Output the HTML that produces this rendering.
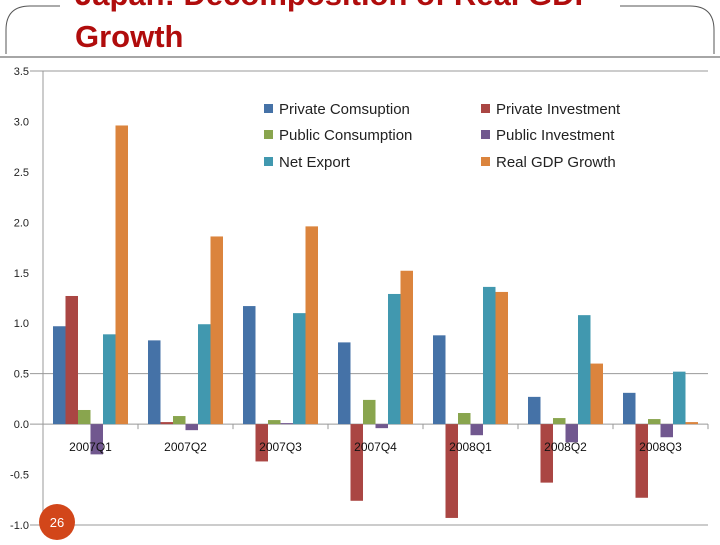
<!DOCTYPE html>
<html><head><meta charset="utf-8"><style>
body{margin:0;width:720px;height:540px;overflow:hidden;background:#fff;font-family:"Liberation Sans",sans-serif}
</style></head><body>
<svg width="720" height="540">
<path d="M6,54 V30 Q6,6 30,6 H690 Q714,6 714,30 V54" fill="none" stroke="#555" stroke-width="1"/>
<rect x="60" y="0" width="560" height="16" fill="#fff"/>
<text x="75" y="5" font-size="31" font-weight="bold" fill="#b00c0c">Japan: Decomposition of Real GDP</text>
<text x="75" y="47" font-size="31" font-weight="bold" fill="#b00c0c">Growth</text>
<line x1="0" y1="57" x2="720" y2="57" stroke="#888" stroke-width="1.5"/>
<g id="chart"></g>
<circle cx="57" cy="522" r="18" fill="#d2461a"/>
<text x="57" y="527" font-size="13" fill="#fff" text-anchor="middle">26</text>
</svg>
<script>
const categories=["2007Q1","2007Q2","2007Q3","2007Q4","2008Q1","2008Q2","2008Q3"];
const seriesNames=["Private Comsuption","Private Investment","Public Consumption","Public Investment","Net Export","Real GDP Growth"];
const privateConsumption=[0.97,0.83,1.17,0.81,0.88,0.27,0.31];
const privateInvestment=[1.27,0.02,-0.37,-0.76,-0.93,-0.58,-0.73];
const publicConsumption=[0.14,0.08,0.04,0.24,0.11,0.06,0.05];
const publicInvestment=[-0.30,-0.06,0.01,-0.04,-0.11,-0.18,-0.13];
const netExport=[0.89,0.99,1.10,1.29,1.36,1.08,0.52];
const realGdp=[2.96,1.86,1.96,1.52,1.31,0.60,0.02];
const yTicks=[3.5,3.0,2.5,2.0,1.5,1.0,0.5,0.0,-0.5,-1.0];
const series=[privateConsumption,privateInvestment,publicConsumption,publicInvestment,netExport,realGdp];
const colors=["#4572a7","#aa4643","#89a54e","#71588f","#4198af","#db843d"];
const NS="http://www.w3.org/2000/svg";
const g=document.getElementById('chart');
const x0=43,x1=708,yTop=71,yBot=525,vMax=3.5,vMin=-1.0;
const y=v=>yTop+(vMax-v)/(vMax-vMin)*(yBot-yTop);
const gw=(x1-x0)/categories.length, bw=12.5, off=(gw-bw*6)/2;
function mk(t,a){const e=document.createElementNS(NS,t);for(const k in a)e.setAttribute(k,a[k]);g.appendChild(e);return e;}
const lineTicks=[3.5,0.5,0.0,-1.0];
yTicks.forEach(t=>{
  if(lineTicks.includes(t)){const l=mk('line',{x1:30,x2:x1,y1:y(t),y2:y(t),stroke:'#999'});
  
  }
  const tx=mk('text',{x:29,y:y(t)+4,'font-size':11,'text-anchor':'end',fill:'#222'});
  tx.textContent=t.toFixed(1);
  
  
});
const ax=mk('line',{x1:x0,x2:x0,y1:yTop,y2:yBot,stroke:'#999'});


categories.forEach((c,i)=>{
  const tk=mk('line',{x1:x0+gw*(i+1),x2:x0+gw*(i+1),y1:y(0),y2:y(0)+5,stroke:'#999'});
  
  
  series.forEach((s,j)=>{
    const v=s[i],top=y(Math.max(v,0)),h=Math.abs(y(v)-y(0));
    const r=mk('rect',{x:x0+gw*i+off+bw*j,y:top,width:bw,height:Math.max(h,0.5),fill:colors[j]});
    
    
  });
  const t=mk('text',{x:x0+gw*i+gw/2,y:y(0)+27,'font-size':12,'text-anchor':'middle',fill:'#111'});
  t.textContent=c;
  
  
});
const legPos=[[264,109],[481,109],[264,135],[481,135],[264,162],[481,162]];
seriesNames.forEach((n,j)=>{
  const [lx,ly]=legPos[j];
  const r=mk('rect',{x:lx,y:ly-5,width:9,height:9,fill:colors[j]});
  
  
  const t=mk('text',{x:lx+15,y:ly+5,'font-size':15,fill:'#222'});
  t.textContent=n;
  
  
});
</script>
</body></html>
